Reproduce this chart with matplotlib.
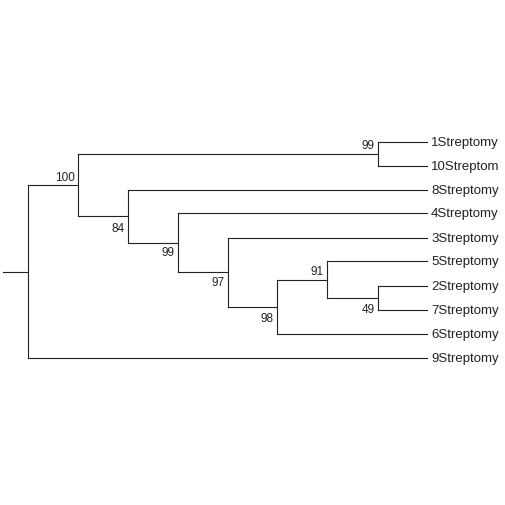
import matplotlib.pyplot as plt

plt.rcParams['font.family'] = ['Liberation Sans', 'DejaVu Sans']

# tree: leaves in display order, internal nodes
leaves = ["1Streptomy", "10Streptom", "8Streptomy", "4Streptomy", "3Streptomy",
          "5Streptomy", "2Streptomy", "7Streptomy", "6Streptomy", "9Streptomy"]
leaf_y = [143, 167, 191, 214, 239, 262, 287, 311, 335, 359]
leaf_x = 427

# name: (x, children, support, support label y)
nodes = {
    "n49": (378, ["2Streptomy", "7Streptomy"], "49", 310),
    "n91": (327, ["5Streptomy", "n49"], "91", 272),
    "n98": (277, ["n91", "6Streptomy"], "98", 319),
    "n97": (228, ["3Streptomy", "n98"], "97", 283),
    "n99b": (178, ["4Streptomy", "n97"], "99", 253),
    "n84": (128, ["8Streptomy", "n99b"], "84", 229),
    "n99a": (378, ["1Streptomy", "10Streptom"], "99", 146),
    "n100": (78, ["n99a", "n84"], "100", 178),
    "root": (28, ["n100", "9Streptomy"], "", 0),
}

fig = plt.figure(figsize=(5.06, 5.06), dpi=100)
ax = fig.add_axes([0, 0, 1, 1])
ax.set_xlim(0, 506)
ax.set_ylim(506, 0)
ax.axis("off")
lw = 0.8
col = "#222222"

pos = {n: (leaf_x, y) for n, y in zip(leaves, leaf_y)}


def place(name):
    if name in pos:
        return pos[name]
    x, kids, sup, sy = nodes[name]
    ys = []
    for k in kids:
        kx, ky = place(k)
        ax.plot([x, kx], [ky, ky], color=col, lw=lw)
        ys.append(ky)
    ax.plot([x, x], [min(ys), max(ys)], color=col, lw=lw)
    pos[name] = (x, sum(ys) / 2)
    if sup:
        ax.text(x - 3, sy, sup, ha="right", va="center", fontsize=8.5, color=col)
    return pos[name]


rx, ry = place("root")
ax.plot([3, rx], [ry, ry], color=col, lw=lw)

for n, y in zip(leaves, leaf_y):
    ax.text(leaf_x + 4, y, n, ha="left", va="center", fontsize=9.5, color=col)

fig.savefig("out.png", dpi=100)
